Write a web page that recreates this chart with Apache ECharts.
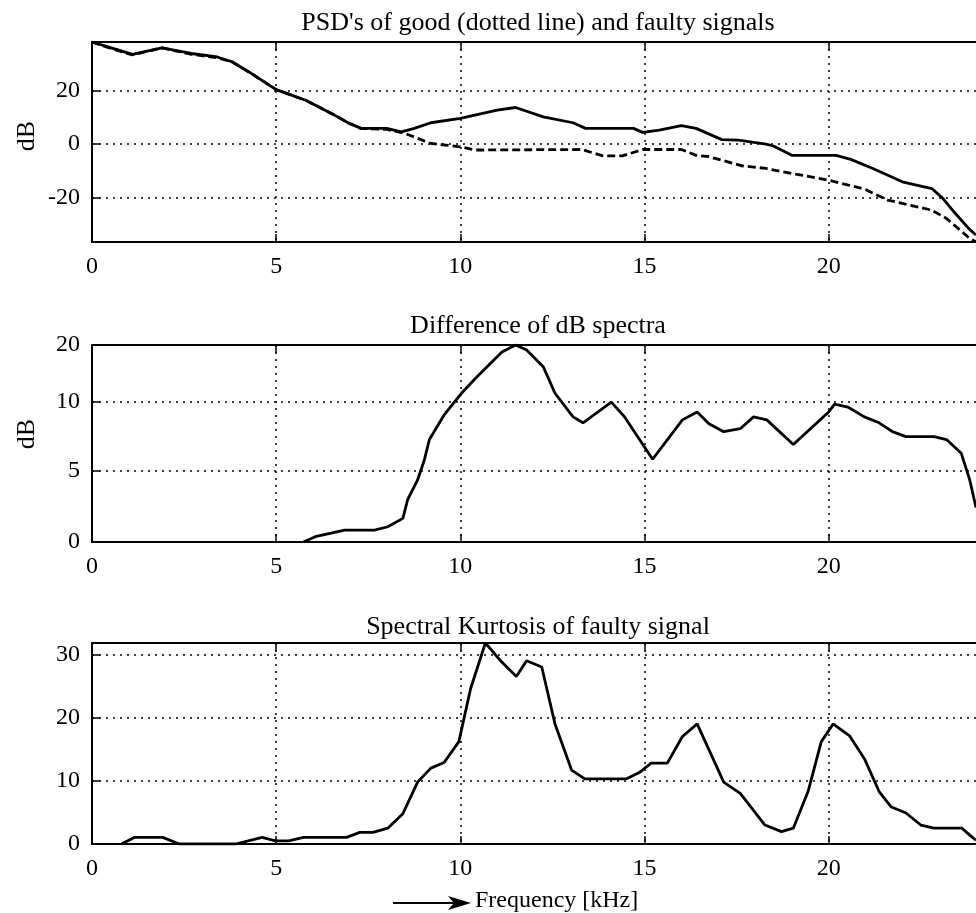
<!DOCTYPE html>
<html>
<head>
<meta charset="utf-8">
<script src="https://cdn.jsdelivr.net/npm/echarts@6/dist/echarts.min.js"></script>
<style>
  html, body { margin: 0; padding: 0; background: #fff; }
  #chart { width: 976px; height: 913px; }
</style>
</head>
<body>
<div id="chart"></div>
<script>
// tick positions / labels
var freqTicks = [0, 5, 10, 15, 20];
var psdTicks = [-20, 0, 20];
// the middle plot's scale is not linear in the source: labels sit at these heights
var diffTickPos = [0, 7.26, 14.24, 20];
var diffTickLabels = ['0', '5', '10', '20'];
var skTicks = [0, 10, 20, 30];

// PSD of faulty signal (solid)
var freqFaulty = [0, 0.57, 1.1, 1.9, 2.7, 3.4, 3.8, 4.26, 5.0, 5.8, 6.5, 6.95, 7.3, 8.0, 8.4, 8.75, 9.2, 10.0, 11.0, 11.5,
  12.25, 13.06, 13.4, 14.7, 14.95, 15.4, 16.0, 16.4, 17.1, 17.55, 18.3, 18.5, 19.0, 20.2, 20.6, 21.2, 22.0, 22.8, 23.1, 23.4, 23.8, 24.0];
var psdFaulty = [38.2, 35.8, 33.6, 36.0, 33.9, 32.6, 30.8, 27.0, 20.4, 16.4, 11.5, 8.0, 5.9, 5.9, 4.6, 5.9, 8.0, 9.6, 12.7, 13.7,
  10.2, 8.0, 5.9, 5.9, 4.4, 5.2, 6.9, 5.9, 1.7, 1.5, 0, -0.7, -4.2, -4.2, -5.7, -9.1, -14.1, -16.6, -20.3, -25.3, -31.5, -34.0];

// PSD of good signal (dashed)
var freqGood = [0, 0.57, 1.1, 1.9, 2.7, 3.4, 3.8, 4.26, 5.0, 5.8, 6.5, 6.95, 7.3, 8.0, 8.5, 9.2, 10.0, 10.4, 13.3, 13.87, 14.4,
  14.95, 16.0, 16.4, 16.75, 17.65, 18.3, 19.1, 20.0, 20.97, 21.6, 22.8, 23.2, 23.8, 24.0];
var psdGood = [38.2, 35.5, 33.4, 36.0, 33.6, 32.3, 30.8, 27.0, 20.4, 16.4, 11.5, 8.0, 5.9, 5.5, 4.0, 0.25, -1.0, -2.2, -2.0, -4.4, -4.4,
  -2.0, -2.0, -4.2, -4.7, -8.1, -9.1, -11.2, -13.5, -16.8, -20.9, -24.7, -27.8, -34.9, -36.6];

// difference of dB spectra (in axis height units, see diffTickPos)
var freqDiff = [5.74, 6.06, 6.86, 7.67, 8.03, 8.44, 8.57, 8.84, 9.02, 9.16, 9.56, 10.03, 10.46, 11.13, 11.5, 11.8, 12.25, 12.57,
  13.06, 13.33, 14.1, 14.46, 15.22, 16.03, 16.43, 16.75, 17.15, 17.6, 17.96, 18.32, 19.04, 20.0, 20.16, 20.52, 20.97, 21.37,
  21.73, 22.1, 22.86, 23.2, 23.6, 23.83, 24.0];
var diffDb = [0, 0.54, 1.2, 1.2, 1.55, 2.4, 4.3, 6.3, 8.3, 10.4, 12.9, 15.1, 16.8, 19.3, 20, 19.5, 17.8, 15.1,
  12.7, 12.1, 14.2, 12.7, 8.4, 12.4, 13.2, 12.0, 11.2, 11.5, 12.7, 12.4, 9.9, 13.2, 14.0, 13.7, 12.7, 12.1,
  11.2, 10.7, 10.7, 10.4, 9.0, 6.3, 3.5];

// spectral kurtosis of faulty signal
var freqSk = [0.8, 1.16, 1.92, 2.37, 3.9, 4.62, 4.98, 5.34, 5.74, 6.91, 7.27, 7.63, 8.03, 8.44, 8.84, 9.2, 9.56, 9.96, 10.28, 10.68,
  11.09, 11.52, 11.8, 12.21, 12.57, 13.02, 13.38, 14.5, 14.86, 15.18, 15.62, 16.03, 16.43, 17.15, 17.6, 18.27, 18.72, 19.04,
  19.44, 19.8, 20.12, 20.57, 20.97, 21.37, 21.69, 22.1, 22.5, 22.86, 23.62, 23.83, 24.0];
var skValues = [0, 1.05, 1.05, 0, 0, 1.05, 0.5, 0.5, 1.05, 1.05, 1.84, 1.84, 2.5, 4.8, 9.8, 12.0, 12.9, 16.2, 24.6, 31.8,
  29.0, 26.5, 29.0, 28.0, 19.0, 11.7, 10.3, 10.3, 11.3, 12.8, 12.8, 17.0, 19.0, 9.8, 8.0, 3.0, 1.95, 2.5,
  8.3, 16.2, 19.0, 17.1, 13.5, 8.3, 5.9, 4.9, 3.0, 2.5, 2.5, 1.4, 0.6];

var SERIF = "'Liberation Serif', 'Times New Roman', serif";
var dotted = { color: '#000', width: 1.5, type: [2, 5] };

function pairs(xs, ys) {
  return xs.map(function (x, i) { return [x, ys[i]]; });
}

function labelFor(ticks, labels) {
  return function (v) {
    for (var i = 0; i < ticks.length; i++) {
      if (Math.abs(ticks[i] - v) < 1e-6) return labels ? labels[i] : String(ticks[i]);
    }
    return '';
  };
}

function freqAxis(idx, pos) {
  var bottom = pos === 'bottom';
  return {
    type: 'value', gridIndex: idx, position: pos, min: 0, max: 24,
    axisLine: { show: true, onZero: false, lineStyle: { color: '#000', width: 2 } },
    axisTick: { show: true, inside: true, length: 8, customValues: freqTicks, lineStyle: { color: '#000', width: 1.5 } },
    axisLabel: {
      show: bottom, customValues: freqTicks, margin: 13,
      color: '#000', fontFamily: SERIF, fontSize: 24
    },
    splitLine: { show: bottom, lineStyle: dotted }
  };
}

function levelAxis(idx, min, max, ticks, labels) {
  return {
    type: 'value', gridIndex: idx, min: min, max: max,
    axisLine: { show: true, lineStyle: { color: '#000', width: 2 } },
    axisTick: { show: true, inside: true, length: 8, customValues: ticks, lineStyle: { color: '#000', width: 1.5 } },
    axisLabel: {
      customValues: ticks, margin: 12, color: '#000', fontFamily: SERIF, fontSize: 24,
      formatter: labelFor(ticks, labels)
    },
    splitLine: { show: true, lineStyle: dotted }
  };
}

function title(text, top) {
  return {
    text: text, left: 538, top: top, textAlign: 'center', textVerticalAlign: 'top', padding: 0,
    textStyle: { color: '#000', fontFamily: SERIF, fontSize: 26, fontWeight: 'normal' }
  };
}

function unitLabel(y) {
  return {
    type: 'text', x: 27, y: y, rotation: Math.PI / 2,
    style: { text: 'dB', font: '26px ' + SERIF, fill: '#000', align: 'center', verticalAlign: 'middle' }
  };
}

var chart = echarts.init(document.getElementById('chart'), null, { renderer: 'canvas' });

var option = {
  backgroundColor: '#ffffff',
  animation: false,
  title: [
    title("PSD's of good (dotted line) and faulty signals", 10),
    title('Difference of dB spectra', 313),
    title('Spectral Kurtosis of faulty signal', 614)
  ],
  grid: [
    { left: 92, top: 42, width: 890, height: 200 },
    { left: 92, top: 345, width: 890, height: 197 },
    { left: 92, top: 643, width: 890, height: 201 }
  ],
  xAxis: [
    freqAxis(0, 'bottom'), freqAxis(0, 'top'),
    freqAxis(1, 'bottom'), freqAxis(1, 'top'),
    freqAxis(2, 'bottom'), freqAxis(2, 'top')
  ],
  yAxis: [
    levelAxis(0, -36.6, 38.2, psdTicks),
    levelAxis(1, 0, 20, diffTickPos, diffTickLabels),
    levelAxis(2, 0, 31.8, skTicks)
  ],
  series: [
    {
      name: 'good', type: 'line', xAxisIndex: 0, yAxisIndex: 0, showSymbol: false, z: 3,
      lineStyle: { color: '#000', width: 2.8, type: [8, 4] },
      data: pairs(freqGood, psdGood)
    },
    {
      name: 'faulty', type: 'line', xAxisIndex: 0, yAxisIndex: 0, showSymbol: false, z: 4,
      lineStyle: { color: '#000', width: 2.8 },
      data: pairs(freqFaulty, psdFaulty)
    },
    {
      name: 'difference', type: 'line', xAxisIndex: 2, yAxisIndex: 1, showSymbol: false,
      lineStyle: { color: '#000', width: 2.8 },
      data: pairs(freqDiff, diffDb)
    },
    {
      name: 'kurtosis', type: 'line', xAxisIndex: 4, yAxisIndex: 2, showSymbol: false,
      lineStyle: { color: '#000', width: 2.8 },
      data: pairs(freqSk, skValues)
    }
  ],
  graphic: [
    unitLabel(136),
    unitLabel(434),
    {
      type: 'line', shape: { x1: 393, y1: 903, x2: 458, y2: 903 },
      style: { stroke: '#000', lineWidth: 2 }
    },
    {
      type: 'polygon', shape: { points: [[448, 896], [471, 903], [448, 910], [454, 903]] },
      style: { fill: '#000' }
    },
    {
      type: 'text', x: 475, y: 901,
      style: { text: 'Frequency [kHz]', font: '24px ' + SERIF, fill: '#000', align: 'left', verticalAlign: 'middle' }
    }
  ]
};

chart.setOption(option);
</script>
</body>
</html>
